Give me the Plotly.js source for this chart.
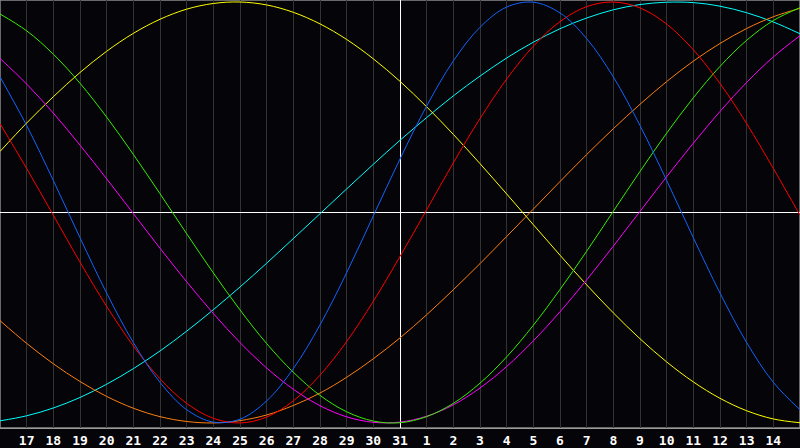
<!DOCTYPE html>
<html>
<head>
<meta charset="utf-8">
<script src="https://cdn.plot.ly/plotly-3.0.1.min.js"></script>
<style>
html,body{margin:0;padding:0;background:#050408;}
#chart{width:800px;height:448px;}
</style>
</head>
<body>
<div id="chart"></div>
<script>
const days = ['16','17','18','19','20','21','22','23','24','25','26','27','28','29','30','31',
  '1','2','3','4','5','6','7','8','9','10','11','12','13','14','15'];
const tickDays = days.slice(1, 30);

const physical = [0.644,0.413,0.152,-0.120,-0.383,-0.618,-0.807,-0.937,-0.996,-0.982,-0.895,-0.742,-0.534,-0.286,-0.016,0.254,
  0.506,0.720,0.880,0.976,0.999,0.948,0.826,0.644,0.413,0.152,-0.120,-0.383,-0.618,-0.807,-0.937];
const emotional = [0.422,0.209,-0.013,-0.236,-0.446,-0.634,-0.790,-0.907,-0.978,-1.000,-0.972,-0.895,-0.773,-0.613,-0.422,-0.209,
  0.013,0.236,0.446,0.634,0.790,0.907,0.978,1.000,0.972,0.895,0.773,0.613,0.422,0.209,-0.013];
const intellectual = [0.943,0.863,0.752,0.614,0.453,0.276,0.089,-0.101,-0.287,-0.463,-0.623,-0.759,-0.869,-0.947,-0.991,-0.999,
  -0.970,-0.907,-0.811,-0.686,-0.536,-0.366,-0.184,0.006,0.195,0.377,0.545,0.694,0.818,0.912,0.973];
const intuitive = [0.732,0.610,0.472,0.320,0.160,-0.005,-0.170,-0.329,-0.480,-0.618,-0.739,-0.840,-0.918,-0.971,-0.997,-0.996,
  -0.968,-0.914,-0.834,-0.732,-0.610,-0.472,-0.320,-0.160,0.005,0.170,0.329,0.480,0.618,0.739,0.840];
const aesthetic = [0.290,0.425,0.550,0.665,0.766,0.851,0.918,0.966,0.993,1.000,0.986,0.951,0.896,0.822,0.730,0.623,
  0.502,0.371,0.232,0.088,-0.058,-0.203,-0.344,-0.477,-0.600,-0.710,-0.805,-0.883,-0.942,-0.981,-0.999];
const spiritual = [-0.990,-0.966,-0.929,-0.879,-0.816,-0.742,-0.658,-0.564,-0.462,-0.354,-0.241,-0.124,-0.006,0.112,0.229,0.343,
  0.451,0.554,0.648,0.734,0.809,0.873,0.924,0.963,0.988,0.999,0.997,0.980,0.949,0.905,0.849];
const awareness = [-0.514,-0.622,-0.719,-0.803,-0.874,-0.930,-0.970,-0.993,-1.000,-0.989,-0.962,-0.917,-0.858,-0.783,-0.695,-0.596,
  -0.486,-0.367,-0.243,-0.114,0.016,0.147,0.275,0.398,0.514,0.622,0.719,0.803,0.874,0.930,0.970];

const series = [
  {name:'Spiritual', y: spiritual, color:'#00ffff'},
  {name:'Awareness', y: awareness, color:'#ff7f10'},
  {name:'Aesthetic', y: aesthetic, color:'#ffff00'},
  {name:'Intuitive', y: intuitive, color:'#ff00ff'},
  {name:'Intellectual', y: intellectual, color:'#33ee00'},
  {name:'Emotional', y: emotional, color:'#ff0000'},
  {name:'Physical', y: physical, color:'#1064ff'}
];

const traces = series.map(s => ({
  type:'scatter', mode:'lines', x: days, y: s.y, name: s.name,
  line:{color:s.color, width:1, shape:'spline', smoothing:1},
  hoverinfo:'skip'
}));
// empty helper trace so the overlay axis (which carries the "today" line) is drawn
traces.push({type:'scatter', mode:'lines', x:[], y:[], xaxis:'x2', yaxis:'y', hoverinfo:'skip', showlegend:false});

const layout = {
  width:800, height:448,
  margin:{l:0, r:0, t:0, b:20, pad:0},
  paper_bgcolor:'#050408', plot_bgcolor:'#050408',
  showlegend:false,
  xaxis:{
    type:'category', categoryorder:'array', categoryarray: days,
    range:[0,30], tickvals: tickDays, ticktext: tickDays,
    showgrid:true, gridcolor:'#333333', gridwidth:1,
    ticks:'', tickfont:{family:'DejaVu Sans Mono', size:13, color:'#ffffff', weight:'bold'},
    showline:true, linecolor:'#9a9a9a', linewidth:1,
    zeroline:false, fixedrange:true
  },
  xaxis2:{
    overlaying:'x', side:'bottom', type:'linear', range:[-15,15], autorange:false,
    showgrid:false, showticklabels:false, ticks:'',
    zeroline:true, zerolinecolor:'#ffffff', zerolinewidth:1, showline:false, fixedrange:true
  },
  yaxis:{
    range:[-1.024, 1.0095], showgrid:false, showticklabels:false, ticks:'',
    zeroline:true, zerolinecolor:'#ffffff', zerolinewidth:1, fixedrange:true
  },
  shapes:[
    {type:'rect', xref:'paper', yref:'paper', x0:0, x1:1, y0:0, y1:1,
     line:{color:'#8a8a8a', width:1.5}, layer:'between'}
  ]
};

Plotly.newPlot('chart', traces, layout, {staticPlot:true, displayModeBar:false});
</script>
</body>
</html>
